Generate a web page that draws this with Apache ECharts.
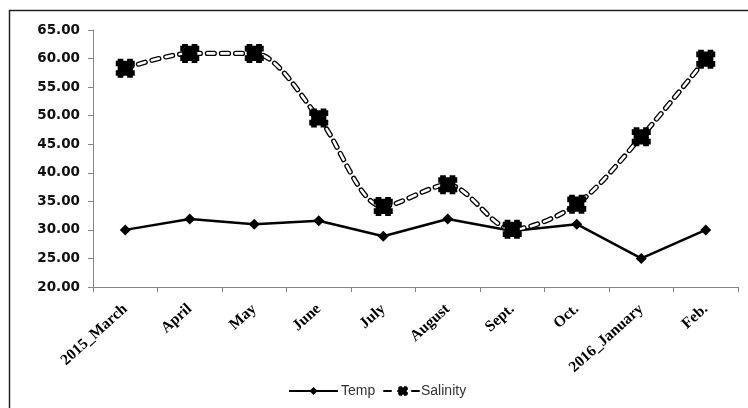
<!DOCTYPE html>
<html>
<head>
<meta charset="utf-8">
<script src="https://cdn.jsdelivr.net/npm/echarts@6/dist/echarts.min.js"></script>
<style>
  html, body { margin: 0; padding: 0; background: #fff; }
  #chart { width: 748px; height: 408px; }
</style>
</head>
<body>
<div id="chart"></div>
<script>
// Monthly sampling, March 2015 to February 2016
const months = ['2015_March', 'April', 'May', 'June', 'July', 'August', 'Sept.', 'Oct.', '2016_January', 'Feb.'];
const temp = [30.0, 31.9, 31.0, 31.6, 28.9, 31.9, 29.8, 31.0, 25.0, 30.0];
const salinity = [58.3, 60.9, 60.9, 49.6, 34.1, 37.9, 30.1, 34.5, 46.3, 59.9];
const yTicks = { min: 20, max: 65, step: 5 };

// notched square marker used for the salinity points
const blob = 'path://M1,0L4,0L4,1L6,1L6,0L9,0L9,1L10,1L10,4L9,4L9,6L10,6L10,9L9,9L9,10L6,10L6,9L4,9L4,10L1,10L1,9L0,9L0,6L1,6L1,4L0,4L0,1L1,1Z';

const chart = echarts.init(document.getElementById('chart'), null, { renderer: 'canvas' });

const axisGray = '#868686';
const salSmooth = 0.3;
const salDash = [7, 7];

chart.setOption({
  animation: false,
  backgroundColor: '#fff',
  graphic: [{
    type: 'rect',
    shape: { x: 9.5, y: 10.5, width: 760, height: 420 },
    style: { fill: 'none', stroke: '#222', lineWidth: 1.5 },
    z: 100, silent: true
  }],
  grid: { left: 93, right: 10, top: 30, bottom: 121 },
  legend: [{
    data: ['Temp'],
    left: 283, top: 379,
    itemWidth: 49, itemHeight: 10, itemGap: 0,
    textStyle: { fontFamily: 'Liberation Sans', fontSize: 14, color: '#333', padding: [0, 0, 0, -2] }
  }, {
    data: ['Salinity'],
    left: 378, top: 379,
    itemWidth: 38, itemHeight: 12, itemGap: 0,
    textStyle: { fontFamily: 'Liberation Sans', fontSize: 14, color: '#333', padding: [0, 0, 0, -6] }
  }],
  xAxis: {
    type: 'category',
    data: months,
    boundaryGap: true,
    axisLine: { lineStyle: { color: axisGray, width: 1 } },
    axisTick: { show: true, alignWithLabel: false, length: 5, lineStyle: { color: axisGray } },
    axisLabel: {
      interval: 0, rotate: 42, margin: 20,
      fontFamily: 'Liberation Serif', fontWeight: 'bold', fontSize: 15.5, color: '#000'
    },
    splitLine: { show: false }
  },
  yAxis: {
    type: 'value',
    min: yTicks.min, max: yTicks.max, interval: yTicks.step,
    axisLine: { show: true, lineStyle: { color: axisGray, width: 1 } },
    axisTick: { show: true, length: 5, lineStyle: { color: axisGray } },
    axisLabel: {
      margin: 13,
      formatter: v => v.toFixed(2),
      fontFamily: 'DejaVu Sans', fontWeight: 'bold', fontSize: 13.5, color: '#111'
    },
    splitLine: { show: false }
  },
  series: [
    {
      name: 'Temp',
      type: 'line',
      data: temp,
      symbol: 'diamond',
      symbolSize: [11, 11],
      itemStyle: { color: '#000' },
      lineStyle: { color: '#000', width: 2.5 },
      z: 2
    },
    {
      // outer dark stroke of the salinity trace
      name: 'Salinity',
      type: 'line',
      data: salinity,
      smooth: salSmooth,
      symbol: blob,
      symbolSize: 13,
      itemStyle: { color: '#000' },
      lineStyle: { color: '#000', width: 5.2, type: salDash, cap: 'round' },
      z: 3
    },
    {
      // light core of the salinity dashes
      name: 'salinity-core',
      type: 'line',
      data: salinity,
      smooth: salSmooth,
      symbol: 'none',
      lineStyle: { color: '#fff', width: 2.6, type: salDash, cap: 'round' },
      silent: true,
      z: 4
    },
    {
      // salinity point markers drawn above both strokes
      name: 'salinity-marks',
      type: 'scatter',
      data: salinity,
      symbol: blob,
      symbolSize: 19,
      itemStyle: { color: '#000', opacity: 1 },
      silent: true,
      z: 5
    }
  ]
});
</script>
</body>
</html>
